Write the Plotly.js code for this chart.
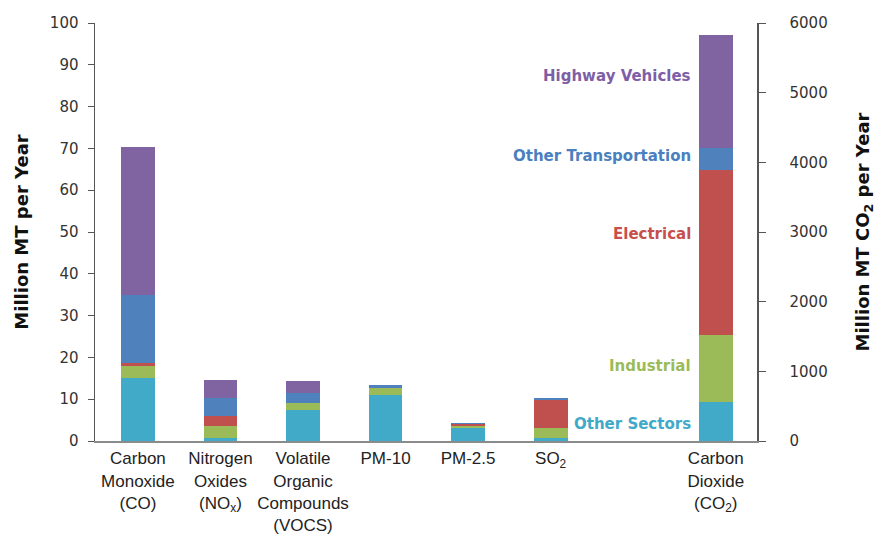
<!DOCTYPE html>
<html>
<head>
<meta charset="utf-8">
<script src="https://cdn.plot.ly/plotly-3.0.1.min.js"></script>
<style>html,body{margin:0;padding:0;background:#fff;}#chart{width:876px;height:535px;}</style>
</head>
<body>
<div id="chart"></div>
<script>
// ---- data ----
const categories = ['Carbon<br>Monoxide<br>(CO)', 'Nitrogen<br>Oxides<br>(NO<sub>x</sub>)', 'Volatile<br>Organic<br>Compounds<br>(VOCS)', 'PM-10', 'PM-2.5', 'SO<sub>2</sub>'];
const spacerCategory = ' ';
const co2Category = 'Carbon<br>Dioxide<br>(CO<sub>2</sub>)';
const sectors = ['Other Sectors', 'Industrial', 'Electrical', 'Other Transportation', 'Highway Vehicles'];
const otherSectors        = [15.1, 0.8, 7.5, 11.1, 3.1, 0.6];
const industrial          = [2.8, 2.7, 1.5, 1.5, 0.4, 2.5];
const electrical          = [0.8, 2.6, 0.1, 0.2, 0.5, 6.7];
const otherTransportation = [16.2, 4.1, 2.4, 0.5, 0.2, 0.5];
const highwayVehicles     = [35.4, 4.5, 2.8, 0.1, 0.2, 0.1];
const co2BySector = [560, 957, 2369, 320, 1617]; // same order as sectors
const leftTicks = [0, 10, 20, 30, 40, 50, 60, 70, 80, 90, 100];
const rightTicks = [0, 1000, 2000, 3000, 4000, 5000, 6000];

// ---- styles ----
const barColors = ['#41aac8', '#9bbb59', '#c0504d', '#4f81bd', '#8064a2'];
const labelColors = ['#3fa9c9', '#9bbb59', '#c74f4c', '#4a7fc0', '#7e5ea6'];
const labelY2 = [240, 1073, 2967, 4087, 5234];
const leftSeries = [otherSectors, industrial, electrical, otherTransportation, highwayVehicles];

const traces = [];
sectors.forEach((name, i) => {
  traces.push({
    type: 'bar', name: name,
    x: categories.concat([spacerCategory]),
    y: leftSeries[i].concat([null]),
    yaxis: 'y', width: 0.41,
    marker: {color: barColors[i], line: {width: 0}},
    hoverinfo: 'skip'
  });
});
sectors.forEach((name, i) => {
  traces.push({
    type: 'bar', name: name + ' CO2',
    x: [co2Category], y: [co2BySector[i]],
    yaxis: 'y2', width: 0.41,
    marker: {color: barColors[i], line: {width: 0}},
    hoverinfo: 'skip'
  });
});

const annotations = sectors.map((name, i) => ({
  text: '<b>' + name + '</b>', xref: 'paper', x: 0.9035, xanchor: 'right',
  yref: 'y2', y: labelY2[i], yanchor: 'middle', showarrow: false,
  font: {family: 'DejaVu Sans, sans-serif', size: 15, color: labelColors[i]}
}));

const tickFont = {family: 'DejaVu Sans, sans-serif', size: 15, color: '#333'};
const titleFont = {family: 'DejaVu Sans, sans-serif', size: 18, color: '#111'};
const layout = {
  width: 876, height: 535,
  margin: {l: 95, r: 119, t: 23, b: 94, pad: 0},
  barmode: 'stack', showlegend: false,
  paper_bgcolor: '#fff', plot_bgcolor: '#fff',
  font: {family: 'Liberation Sans, Arial, sans-serif', color: '#222'},
  xaxis: {
    type: 'category', categoryorder: 'array',
    categoryarray: categories.concat([spacerCategory, co2Category]),
    range: [-0.52, 7.5], showgrid: false, zeroline: false,
    showline: true, linecolor: '#8a8c8c', linewidth: 2, ticks: '',
    tickfont: {family: 'Liberation Sans, Arial, sans-serif', size: 17, color: '#222'},
    tickangle: 0, ticklabelstandoff: 1
  },
  yaxis: {
    range: [0, 100], tickvals: leftTicks, showgrid: false, zeroline: false,
    showline: true, linecolor: '#555', linewidth: 1.5, ticks: 'outside', ticklen: 6, tickcolor: '#555',
    tickfont: tickFont, ticklabelstandoff: 6,
    title: {text: '<b>Million MT per Year</b>', font: titleFont, standoff: 16}
  },
  yaxis2: {
    range: [0, 6000], tickvals: rightTicks, overlaying: 'y', side: 'right',
    showgrid: false, zeroline: false,
    showline: true, linecolor: '#555', linewidth: 1.5, ticks: 'outside', ticklen: 7, tickcolor: '#555',
    tickfont: tickFont, ticklabelstandoff: 21,
    title: {text: '<b>Million MT CO<sub>2</sub> per Year</b>', font: titleFont, standoff: 30}
  },
  annotations: annotations
};

Plotly.newPlot('chart', traces, layout, {displayModeBar: false, staticPlot: true});
</script>
</body>
</html>
